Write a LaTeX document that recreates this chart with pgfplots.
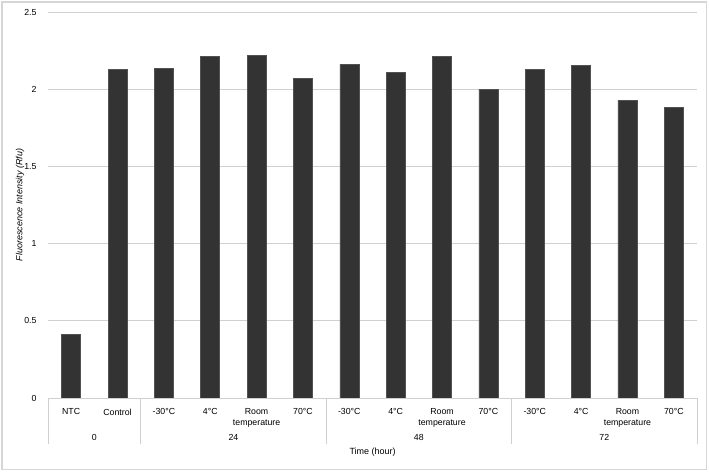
\documentclass[border=0pt]{standalone}
\usepackage{pgfplots}
\pgfplotsset{compat=1.18}
\usepackage{fontspec}
\setmainfont{Liberation Sans}
\definecolor{barc}{HTML}{333333}
\definecolor{gridc}{HTML}{D0D0D0}
\definecolor{framec}{HTML}{D6D6D6}
\begin{document}
\begin{tikzpicture}
\useasboundingbox (0,0) rectangle (709bp,472bp);
\draw[color=framec, line width=1.2bp] (2bp,2.5bp) rectangle (706.5bp,470bp);
\begin{axis}[
  at={(48bp,74bp)}, anchor=south west,
  scale only axis, width=649bp, height=386bp,
  xmin=-0.5, xmax=13.5, ymin=0, ymax=2.5,
  ytick={0,0.5,1,1.5,2,2.5},
  yticklabels={0,0.5,1,1.5,2,2.5},
  ymajorgrids, grid style={gridc, line width=0.9bp},
  axis line style={draw=none},
  tick style={draw=none},
  xtick={0,...,13},
  xticklabels={NTC,Control,-30°C,4°C,Room\\temperature,70°C,-30°C,4°C,Room\\temperature,70°C,-30°C,4°C,Room\\temperature,70°C},
  xticklabel style={align=center, font=\fontsize{8.8}{10.5}\selectfont, anchor=north, yshift=-3bp},
  yticklabel style={font=\fontsize{8.8}{10.5}\selectfont, xshift=-8bp},
  ybar, bar width=19bp,
  clip=false,
]
\addplot[fill=barc, draw=barc!85!white, line width=0.6bp] coordinates {
(0,0.41) (1,2.13) (2,2.135) (3,2.21) (4,2.22) (5,2.07)
(6,2.16) (7,2.11) (8,2.21) (9,2.00)
(10,2.13) (11,2.155) (12,1.93) (13,1.88)};
\draw[gridc, line width=0.9bp] (axis cs:-0.5,0) -- (axis cs:13.5,0);
\draw[gridc, line width=0.9bp] (axis cs:-0.5,0) -- ([yshift=-46bp]axis cs:-0.5,0);
\draw[gridc, line width=0.9bp] (axis cs:1.5,0) -- ([yshift=-46bp]axis cs:1.5,0);
\draw[gridc, line width=0.9bp] (axis cs:5.5,0) -- ([yshift=-46bp]axis cs:5.5,0);
\draw[gridc, line width=0.9bp] (axis cs:9.5,0) -- ([yshift=-46bp]axis cs:9.5,0);
\draw[gridc, line width=0.9bp] (axis cs:13.5,0) -- ([yshift=-46bp]axis cs:13.5,0);
\node[font=\fontsize{8.8}{10.5}\selectfont] at (axis cs:0.5,0) [yshift=-39.7bp] {0};
\node[font=\fontsize{8.8}{10.5}\selectfont] at (axis cs:3.5,0) [yshift=-39.7bp] {24};
\node[font=\fontsize{8.8}{10.5}\selectfont] at (axis cs:7.5,0) [yshift=-39.7bp] {48};
\node[font=\fontsize{8.8}{10.5}\selectfont] at (axis cs:11.5,0) [yshift=-39.7bp] {72};
\node[font=\fontsize{9}{11}\selectfont] at (rel axis cs:0.5,0) [yshift=-54bp] {Time (hour)};
\end{axis}
\node[rotate=90, font=\fontsize{9}{11}\selectfont\itshape] at (20bp,267bp) {Fluorescence Intensity (Rfu)};
\end{tikzpicture}
\end{document}
